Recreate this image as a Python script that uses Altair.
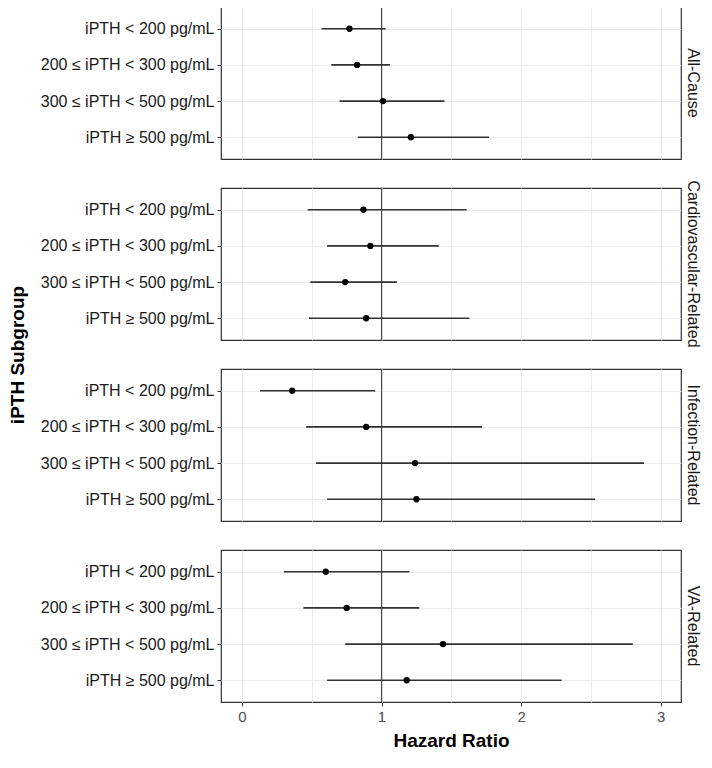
import altair as alt
import pandas as pd

causes = ["All-Cause", "Cardiovascular-Related", "Infection-Related", "VA-Related"]
groups = ["iPTH < 200 pg/mL", "200 ≤ iPTH < 300 pg/mL", "300 ≤ iPTH < 500 pg/mL", "iPTH ≥ 500 pg/mL"]

hr_all = [0.77, 0.825, 1.01, 1.21]
lo_all = [0.57, 0.64, 0.70, 0.83]
hi_all = [1.03, 1.06, 1.45, 1.77]

hr_cv = [0.87, 0.92, 0.74, 0.89]
lo_cv = [0.47, 0.61, 0.49, 0.48]
hi_cv = [1.61, 1.41, 1.11, 1.63]

hr_inf = [0.36, 0.89, 1.24, 1.25]
lo_inf = [0.13, 0.46, 0.53, 0.61]
hi_inf = [0.955, 1.72, 2.88, 2.53]

hr_va = [0.60, 0.75, 1.44, 1.18]
lo_va = [0.30, 0.44, 0.74, 0.61]
hi_va = [1.20, 1.27, 2.80, 2.29]

rows = []
for cause, hrs, los, his in zip(
    causes,
    [hr_all, hr_cv, hr_inf, hr_va],
    [lo_all, lo_cv, lo_inf, lo_va],
    [hi_all, hi_cv, hi_inf, hi_va],
):
    for g, h, l, u in zip(groups, hrs, los, his):
        rows.append({"cause": cause, "group": g, "hr": h, "lo": l, "hi": u})
df = pd.DataFrame(rows)

FONT = "Liberation Sans"

xscale = alt.Scale(domain=[-0.15, 3.145], nice=False, zero=False)
yscale = alt.Scale(type="point", padding=0.6)

x_axis = alt.Axis(
    title="Hazard Ratio",
    values=[0, 0.5, 1, 1.5, 2, 2.5, 3],
    labelExpr="datum.value % 1 == 0 ? format(datum.value, 'd') : ''",
    tickColor={"condition": {"test": "datum.value % 1 == 0", "value": "#333333"}, "value": "transparent"},
    tickSize=4,
    labelFontSize=15,
    labelColor="#4d4d4d",
    labelPadding=3,
    titleFontSize=19,
    titleFontWeight="bold",
    titleColor="#000000",
    titlePadding=7,
    domain=False,
    grid=True,
    gridColor="#ebebeb",
    gridWidth=1,
)
y_axis = alt.Axis(
    title=None,
    labelFontSize=16,
    labelLimit=400,
    labelColor="#1a1a1a",
    tickColor="#333333",
    tickSize=4,
    labelPadding=3,
    domain=False,
    grid=True,
    gridColor="#ebebeb",
    gridWidth=1,
)

base = alt.Chart(df)

vline = base.transform_aggregate(n="count()", groupby=["cause"]).mark_rule(
    color="#4d4d4d", strokeWidth=1.2
).encode(x=alt.X(datum=1, scale=xscale, axis=x_axis))

err = base.mark_rule(color="#333333", strokeWidth=1.6).encode(
    x=alt.X("lo:Q", scale=xscale, axis=x_axis),
    x2="hi:Q",
    y=alt.Y("group:N", sort=groups, scale=yscale, axis=y_axis),
)

pts = base.mark_circle(color="#000000", size=40, opacity=1).encode(
    x=alt.X("hr:Q", scale=xscale, axis=x_axis),
    y=alt.Y("group:N", sort=groups, scale=yscale, axis=y_axis),
)

chart = (
    alt.layer(vline, err, pts)
    .properties(width=460, height=152)
    .facet(
        row=alt.Row(
            "cause:N",
            sort=causes,
            title="iPTH Subgroup",
            header=alt.Header(
                labelOrient="right",
                labelAngle=90,
                labelFontSize=16,
                labelLimit=400,
                labelColor="#1a1a1a",
                labelPadding=4,
                labelFont=FONT,
                titleOrient="left",
                titleFontSize=19,
                titleFontWeight="bold",
                titleFont=FONT,
                titleColor="#000000",
                titlePadding=2,
            ),
        ),
        spacing=29,
        bounds="flush",
    )
    .properties(padding={"left": 1, "top": -3, "right": 0, "bottom": 0})
    .configure(font=FONT)
    .configure_view(stroke="#333333", strokeWidth=1.2)
    .configure_axis(labelFont=FONT, titleFont=FONT)
)

chart.save("out.html", embed_options={"renderer": "svg", "actions": False})
